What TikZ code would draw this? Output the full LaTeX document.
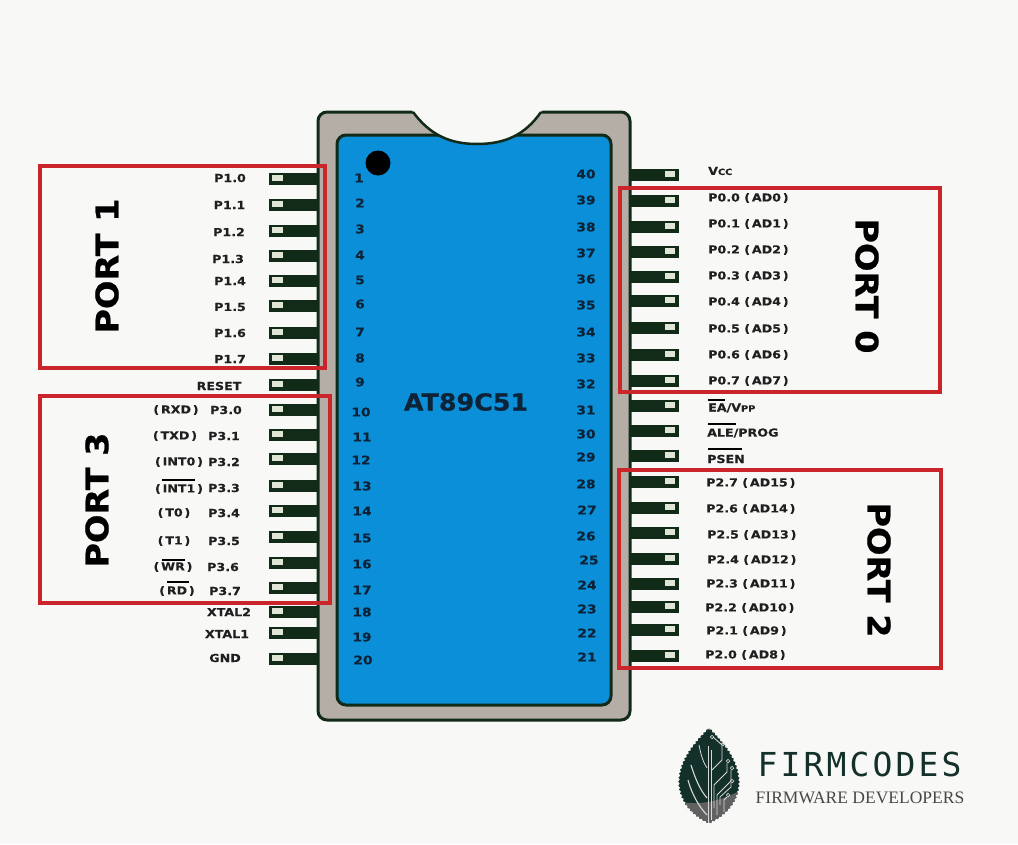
\documentclass[tikz,border=0pt]{standalone}
\usepackage{fontspec}
\usetikzlibrary{decorations.pathmorphing}
\newfontfamily\labfont[FakeStretch=1.15,FakeBold=0.25]{DejaVu Sans}
\newfontfamily\bigfont[FakeStretch=1.08,FakeBold=0.6]{DejaVu Sans}
\newfontfamily\techfont[LetterSpace=9.5]{DejaVu Sans Mono}
\newfontfamily\serfont{Liberation Serif}
\definecolor{bgc}{HTML}{F8F8F6}
\definecolor{bodyc}{HTML}{B5AEA6}
\definecolor{edgec}{HTML}{122A18}
\definecolor{bluec}{HTML}{0A8FD8}
\definecolor{winc}{HTML}{DFE6D5}
\definecolor{redc}{HTML}{C9252B}
\definecolor{numc}{HTML}{0C2338}
\definecolor{leafc}{HTML}{14302A}
\newcommand{\smc}[1]{{\fontsize{8.5}{8.5}\selectfont #1}}
\tikzset{
  x=1pt,y=-1pt,
  pinbox/.style={draw=none,fill=edgec,minimum width=49pt,minimum height=12pt,inner sep=0pt,outer sep=0pt},
  winbox/.style={draw=none,fill=winc,minimum width=10.5pt,minimum height=5.5pt,inner sep=0pt},
  numtxt/.style={font=\labfont\bfseries\fontsize{12}{12}\selectfont,text=numc,inner sep=0pt},
  labtxt/.style={font=\labfont\bfseries\fontsize{11}{11}\selectfont,text=black!88,inner sep=0pt},
  bartxt/.style={line width=2pt,black},
  portbox/.style={draw=redc,line width=4.5pt,fill=none},
  porttxt/.style={font=\bigfont\bfseries\fontsize{31}{31}\selectfont,text=black,inner sep=0pt},
  vein/.style={draw=white!85!black,line width=0.8pt},
  viacirc/.style={draw=white!85!black,circle,line width=0.7pt,minimum size=3.5pt,inner sep=0pt},
}
\begin{document}
\begin{tikzpicture}
\useasboundingbox[fill=bgc] (0,0) rectangle (1018,844);
% package
\draw[fill=bodyc,draw=edgec,line width=3pt,rounded corners=9pt] (413,112) -- (318,112) -- (318,720) -- (630,720) -- (630,112) -- (541,112) -- cycle;
\draw[fill=bluec,draw=edgec,line width=3pt,rounded corners=9pt] (337,135) rectangle (611,705);
\fill[bgc] (411,108) -- (413,112) .. controls (430,135) and (450,144) .. (477,144) .. controls (505,144) and (525,135) .. (541,112) -- (543,108) -- cycle;
\draw[edgec,line width=2.5pt] (413,112) .. controls (430,135) and (450,144) .. (477,144) .. controls (505,144) and (525,135) .. (541,112);
\node[circle,fill=black,minimum size=25pt,inner sep=0pt] (dot) at (378,163) {};
% left pins
\foreach \i/\py/\nx/\ny in {1/179/359/178,2/205/360/203,3/231/360/229,4/256/360/255,5/281/360/280,6/306/360/304,7/333/360/332,8/359/360/358,9/385/360/382,10/410/361/412,11/435/362/437,12/459/361/460,13/486/362/486,14/511/362/511,15/537/362/538,16/563/362/564,17/588/362/590,18/612/362/612,19/633/362/637,20/659/363/660}{
  \node[pinbox] (pinL\i) at (293.5,\py) {};
  \node[winbox] (winL\i) at (277.5,\py-1) {};
  \node[numtxt] (numL\i) at (\nx,\ny) {\i};
}
% right pins
\foreach \i/\py/\nx/\ny in {40/175/586/174,39/201/586/200,38/227/586/227,37/252/586/253,36/277/586/279,35/301/586/305,34/328/586/332,33/355/586/358,32/381/586/384,31/406/586/410,30/431/586/434,29/456/586/457,28/482/586/484,27/508/587/510,26/533/586/536,25/559/589/560,24/584/587/585,23/607/587/609,22/630/587/633,21/656/587/657}{
  \node[pinbox] (pinR\i) at (654,\py) {};
  \node[winbox] (winR\i) at (670,\py-1) {};
  \node[numtxt] (numR\i) at (\nx,\ny) {\i};
}
\node[font=\bigfont\bfseries\fontsize{23.5}{23.5}\selectfont,text=numc,inner sep=0pt] (chip) at (466,402) {AT89C51};
% left labels
\foreach \n/\t/\x/\y in {a/P1.0/230/178,b/P1.1/229.5/205,c/P1.2/229/232,d/P1.3/228/259,e/P1.4/230/281,f/P1.5/230/307,g/P1.6/230/333,h/P1.7/230/359,i/RESET/219/386,
  j/{(\,RXD\,)}/176/410,k/P3.0/226/410,l/{(\,TXD\,)}/175/436,m/P3.1/224/436,n/{(\,INT0\,)}/179/462,o/P3.2/224/462,p/{(\,INT1\,)}/179/489,q/P3.3/224/488,r/{(\,T0\,)}/174/513,s/P3.4/224/513,t/{(\,T1\,)}/174/541,u/P3.5/224/541,v/{(\,WR\,)}/173/567,w/P3.6/223/567,x/{(\,RD\,)}/177/591,y/P3.7/225/591,
  z/XTAL2/229/612,aa/XTAL1/227/634,ab/GND/225/658}{
  \node[labtxt] (lab\n) at (\x,\y) {\t};
}
% right labels
\foreach \n/\t/\x/\y in {a/{V\smc{CC}}/708/171,b/{P0.0 (\,AD0\,)}/708/198,c/{P0.1 (\,AD1\,)}/708/224,d/{P0.2 (\,AD2\,)}/708/250,e/{P0.3 (\,AD3\,)}/708/276,f/{P0.4 (\,AD4\,)}/708/302,g/{P0.5 (\,AD5\,)}/708/329,h/{P0.6 (\,AD6\,)}/708/355,i/{P0.7 (\,AD7\,)}/708/381,
  j/{EA/V\smc{PP}}/708/408,k/{ALE/PROG}/707/433,l/PSEN/707/459,
  m/{P2.7 (\,AD15\,)}/706/483,n/{P2.6 (\,AD14\,)}/706/509,o/{P2.5 (\,AD13\,)}/707/535,p/{P2.4 (\,AD12\,)}/707/560,q/{P2.3 (\,AD11\,)}/706/584,r/{P2.2 (\,AD10\,)}/705/608,s/{P2.1 (\,AD9\,)}/706/631,t/{P2.0 (\,AD8\,)}/705/655}{
  \node[labtxt,anchor=west] (rlab\n) at (\x,\y) {\t};
}
% overbars
\draw[bartxt] (162,480) -- (195,480);
\draw[bartxt] (162,560) -- (185,560);
\draw[bartxt] (167,582) -- (189,582);
\draw[bartxt] (708,400) -- (725,400);
\draw[bartxt] (708,424) -- (736,424);
\draw[bartxt] (708,449) -- (742,449);
% port frames
\draw[portbox] (40,166) rectangle (325,368);
\draw[portbox] (40,396) rectangle (330,603);
\draw[portbox] (620,188) rectangle (940,392);
\draw[portbox] (619,470) rectangle (941,668);
\node[porttxt,rotate=90] (port1) at (107,266) {PORT 1};
\node[porttxt,rotate=90] (port3) at (97,500) {PORT 3};
\node[porttxt,rotate=-90] (port0) at (867,286) {PORT 0};
\node[porttxt,rotate=-90] (port2) at (879,570) {PORT 2};
% logo
\begin{scope}
\clip[decorate,decoration={zigzag,segment length=4pt,amplitude=0.8pt}] (709,728) .. controls (695,742) and (679,760) .. (679,783) .. controls (680,805) and (697,818) .. (709,823) .. controls (721,818) and (738,805) .. (739,783) .. controls (739,760) and (723,742) .. (709,728);
\fill[leafc] (670,720) rectangle (750,830);
\fill[black!62] (675,801) .. controls (700,806) and (720,802) .. (745,788) -- (745,830) -- (675,830) -- cycle;
\end{scope}
\draw[vein] (708,746) -- (708,823);
\draw[vein] (711,750) -- (711,820);
\draw[vein,line width=1.1pt] (688,780) .. controls (692,795) and (700,808) .. (707,815);
\draw[vein,line width=1.1pt] (691,765) .. controls (695,778) and (700,790) .. (707,798);
\draw[vein] (699,745) .. controls (701,755) and (703,762) .. (707,768);
\draw[vein] (712,770) -- (722,760) -- (722,745) -- (713,737);
\draw[vein] (714,808) -- (714,785) -- (727,772) -- (727,763);
\draw[vein] (717,815) -- (717,795) -- (731,781) -- (731,770);
\draw[vein] (720,805) -- (720,797) -- (731,787) -- (731,783);
\draw[vein] (724,812) -- (724,800) -- (727,797);
\node[viacirc] (ca) at (712,737) {};
\node[viacirc] (cb) at (723,744) {};
\node[viacirc] (cc) at (728,761) {};
\node[viacirc] (cd) at (732,768) {};
\node[viacirc] (ce) at (732,781) {};
\node[viacirc] (cf) at (728,795) {};
\node[font=\techfont\fontsize{33}{33}\selectfont,text=leafc,inner sep=0pt] (firm) at (859.5,764) {FIRMCODES};
\node[font=\serfont\fontsize{17.5}{17.5}\selectfont,text=black!72,inner sep=0pt] (dev) at (860,798) {FIRMWARE DEVELOPERS};
\end{tikzpicture}
\end{document}
